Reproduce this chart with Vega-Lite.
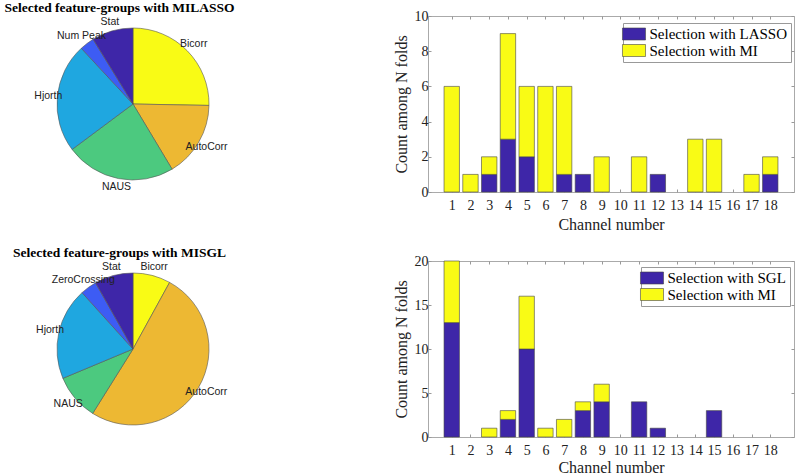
{
  "$schema": "https://vega.github.io/schema/vega-lite/v6.json",
  "padding": {"left": 0, "top": 1, "right": 0, "bottom": 0},
  "background": "white",
  "config": {
    "view": {"stroke": null},
    "font": "Liberation Serif",
    "axis": {"labelFont": "Liberation Serif", "labelFontSize": 14, "labelColor": "#222", "titleFont": "Liberation Serif", "titleFontSize": 16, "titleFontWeight": "normal", "titleColor": "#222", "grid": false, "domain": false, "tickColor": "#999", "tickSize": -3}
  },
  "spacing": 13,
  "resolve": {"scale": {"color": "independent", "theta": "independent", "x": "independent", "y": "independent"}},
  "vconcat": [
    {
      "spacing": 126,
      "resolve": {"scale": {"color": "independent", "theta": "independent", "x": "independent", "y": "independent"}},
      "hconcat": [
        {
          "width": 266,
          "height": 176,
          "title": {"text": "Selected feature-groups with MILASSO", "anchor": "middle", "dx": -13.5, "frame": "group", "baseline": "alphabetic", "offset": -9.5, "font": "Liberation Serif", "fontSize": 13.5, "fontWeight": "bold", "color": "#000"},
          "data": {"values": [
            {"group": "Bicorr", "share": 25.3, "k": 1},
            {"group": "AutoCorr", "share": 16.1, "k": 2},
            {"group": "NAUS", "share": 23.4, "k": 3},
            {"group": "Hjorth", "share": 23.3, "k": 4},
            {"group": "Num Peak", "share": 3.1, "k": 5},
            {"group": "Stat", "share": 8.8, "k": 6}
          ]},
          "encoding": {
            "theta": {"field": "share", "type": "quantitative", "stack": true},
            "order": {"field": "k", "type": "quantitative"}
          },
          "layer": [
            {
              "mark": {"type": "arc", "outerRadius": 76, "stroke": "#555", "strokeWidth": 0.6},
              "encoding": {"color": {"field": "group", "type": "nominal", "scale": {"domain": ["Bicorr", "AutoCorr", "NAUS", "Hjorth", "Num Peak", "Stat"], "range": ["#F9FB15", "#EDB833", "#4CC97F", "#1FA7E0", "#3D5CF4", "#3E26A8"]}, "legend": null}}
            },
            {
              "mark": {"type": "text", "radius": 85, "font": "Liberation Sans", "fontSize": 10.5, "color": "#222"},
              "encoding": {"text": {"field": "group", "type": "nominal"}}
            }
          ]
        },
        {
          "width": 366,
          "height": 176,
          "view": {"stroke": "#AAAAAA"},
          "data": {"values": [
            {"channel": 1, "method": "Selection with MI", "count": 6},
            {"channel": 2, "method": "Selection with MI", "count": 1},
            {"channel": 3, "method": "Selection with LASSO", "count": 1},
            {"channel": 3, "method": "Selection with MI", "count": 1},
            {"channel": 4, "method": "Selection with LASSO", "count": 3},
            {"channel": 4, "method": "Selection with MI", "count": 6},
            {"channel": 5, "method": "Selection with LASSO", "count": 2},
            {"channel": 5, "method": "Selection with MI", "count": 4},
            {"channel": 6, "method": "Selection with MI", "count": 6},
            {"channel": 7, "method": "Selection with LASSO", "count": 1},
            {"channel": 7, "method": "Selection with MI", "count": 5},
            {"channel": 8, "method": "Selection with LASSO", "count": 1},
            {"channel": 9, "method": "Selection with MI", "count": 2},
            {"channel": 11, "method": "Selection with MI", "count": 2},
            {"channel": 12, "method": "Selection with LASSO", "count": 1},
            {"channel": 14, "method": "Selection with MI", "count": 3},
            {"channel": 15, "method": "Selection with MI", "count": 3},
            {"channel": 17, "method": "Selection with MI", "count": 1},
            {"channel": 18, "method": "Selection with LASSO", "count": 1},
            {"channel": 18, "method": "Selection with MI", "count": 1}
          ]},
          "layer": [
            {
              "mark": {"type": "bar", "width": 15.4, "stroke": "#444", "strokeWidth": 0.6},
              "encoding": {
                "x": {"field": "channel", "type": "quantitative", "scale": {"domain": [0, 19], "nice": false, "zero": false}, "axis": {"values": [1,2,3,4,5,6,7,8,9,10,11,12,13,14,15,16,17,18], "title": "Channel number", "labelPadding": 9, "titlePadding": 4}},
                "y": {"field": "count", "type": "quantitative", "stack": "zero", "scale": {"domain": [0, 10], "nice": false}, "axis": {"values": [0,2,4,6,8,10], "title": "Count among N folds", "labelPadding": 3, "titlePadding": 5}},
                "color": {"field": "method", "type": "nominal", "scale": {"domain": ["Selection with LASSO", "Selection with MI"], "range": ["#3E26A8", "#F9FB15"]}, "legend": {"orient": "none", "legendX": 195, "legendY": 7, "title": null, "padding": 3.5, "strokeColor": "#999", "fillColor": "white", "labelFont": "Liberation Serif", "labelFontSize": 15, "labelColor": "#000", "symbolType": "M-1.92,-1H1.92V1H-1.92Z", "symbolSize": 144, "symbolStrokeColor": "#444", "symbolStrokeWidth": 0.6, "symbolOpacity": 1, "labelOffset": 8, "rowPadding": 0.5, "cornerRadius": 0}},
                "order": {"field": "method", "type": "nominal", "sort": "ascending"}
              }
            },
            {
              "mark": {"type": "point", "opacity": 0},
              "encoding": {
                "x": {"field": "channel", "type": "quantitative", "axis": {"orient": "top", "values": [1,2,3,4,5,6,7,8,9,10,11,12,13,14,15,16,17,18], "labels": false, "title": null}},
                "y": {"field": "count", "type": "quantitative", "axis": {"orient": "right", "values": [0,2,4,6,8,10], "labels": false, "title": null}}
              }
            }
          ],
          "resolve": {"axis": {"x": "independent", "y": "independent"}}
        }
      ]
    },
    {
      "spacing": 126,
      "resolve": {"scale": {"color": "independent", "theta": "independent", "x": "independent", "y": "independent"}},
      "hconcat": [
        {
          "width": 266,
          "height": 176,
          "title": {"text": "Selected feature-groups with MISGL", "anchor": "middle", "dx": -13.5, "frame": "group", "baseline": "alphabetic", "offset": -9.5, "font": "Liberation Serif", "fontSize": 13.5, "fontWeight": "bold", "color": "#000"},
          "data": {"values": [
            {"group": "Bicorr", "share": 8.0, "k": 1},
            {"group": "AutoCorr", "share": 50.9, "k": 2},
            {"group": "NAUS", "share": 9.8, "k": 3},
            {"group": "Hjorth", "share": 19.6, "k": 4},
            {"group": "ZeroCrossing", "share": 3.5, "k": 5},
            {"group": "Stat", "share": 8.2, "k": 6}
          ]},
          "encoding": {
            "theta": {"field": "share", "type": "quantitative", "stack": true},
            "order": {"field": "k", "type": "quantitative"}
          },
          "layer": [
            {
              "mark": {"type": "arc", "outerRadius": 76, "stroke": "#555", "strokeWidth": 0.6},
              "encoding": {"color": {"field": "group", "type": "nominal", "scale": {"domain": ["Bicorr", "AutoCorr", "NAUS", "Hjorth", "ZeroCrossing", "Stat"], "range": ["#F9FB15", "#EDB833", "#4CC97F", "#1FA7E0", "#3D5CF4", "#3E26A8"]}, "legend": null}}
            },
            {
              "mark": {"type": "text", "radius": 85, "font": "Liberation Sans", "fontSize": 10.5, "color": "#222"},
              "encoding": {"text": {"field": "group", "type": "nominal"}}
            }
          ]
        },
        {
          "width": 366,
          "height": 176,
          "view": {"stroke": "#AAAAAA"},
          "data": {"values": [
            {"channel": 1, "method": "Selection with SGL", "count": 13},
            {"channel": 1, "method": "Selection with MI", "count": 7},
            {"channel": 3, "method": "Selection with MI", "count": 1},
            {"channel": 4, "method": "Selection with SGL", "count": 2},
            {"channel": 4, "method": "Selection with MI", "count": 1},
            {"channel": 5, "method": "Selection with SGL", "count": 10},
            {"channel": 5, "method": "Selection with MI", "count": 6},
            {"channel": 6, "method": "Selection with MI", "count": 1},
            {"channel": 7, "method": "Selection with MI", "count": 2},
            {"channel": 8, "method": "Selection with SGL", "count": 3},
            {"channel": 8, "method": "Selection with MI", "count": 1},
            {"channel": 9, "method": "Selection with SGL", "count": 4},
            {"channel": 9, "method": "Selection with MI", "count": 2},
            {"channel": 11, "method": "Selection with SGL", "count": 4},
            {"channel": 12, "method": "Selection with SGL", "count": 1},
            {"channel": 15, "method": "Selection with SGL", "count": 3}
          ]},
          "layer": [
            {
              "mark": {"type": "bar", "width": 15.4, "stroke": "#444", "strokeWidth": 0.6},
              "encoding": {
                "x": {"field": "channel", "type": "quantitative", "scale": {"domain": [0, 19], "nice": false, "zero": false}, "axis": {"values": [1,2,3,4,5,6,7,8,9,10,11,12,13,14,15,16,17,18], "title": "Channel number", "labelPadding": 9, "titlePadding": 2}},
                "y": {"field": "count", "type": "quantitative", "stack": "zero", "scale": {"domain": [0, 20], "nice": false}, "axis": {"values": [0,5,10,15,20], "title": "Count among N folds", "labelPadding": 3, "titlePadding": 5}},
                "color": {"field": "method", "type": "nominal", "scale": {"domain": ["Selection with SGL", "Selection with MI"], "range": ["#3E26A8", "#F9FB15"]}, "legend": {"orient": "none", "legendX": 213, "legendY": 6, "title": null, "padding": 3.5, "strokeColor": "#999", "fillColor": "white", "labelFont": "Liberation Serif", "labelFontSize": 15, "labelColor": "#000", "symbolType": "M-1.92,-1H1.92V1H-1.92Z", "symbolSize": 144, "symbolStrokeColor": "#444", "symbolStrokeWidth": 0.6, "symbolOpacity": 1, "labelOffset": 8, "rowPadding": 0.5, "cornerRadius": 0}},
                "order": {"field": "method", "type": "nominal", "sort": "descending"}
              }
            },
            {
              "mark": {"type": "point", "opacity": 0},
              "encoding": {
                "x": {"field": "channel", "type": "quantitative", "axis": {"orient": "top", "values": [1,2,3,4,5,6,7,8,9,10,11,12,13,14,15,16,17,18], "labels": false, "title": null}},
                "y": {"field": "count", "type": "quantitative", "axis": {"orient": "right", "values": [0,5,10,15,20], "labels": false, "title": null}}
              }
            }
          ],
          "resolve": {"axis": {"x": "independent", "y": "independent"}}
        }
      ]
    }
  ]
}
